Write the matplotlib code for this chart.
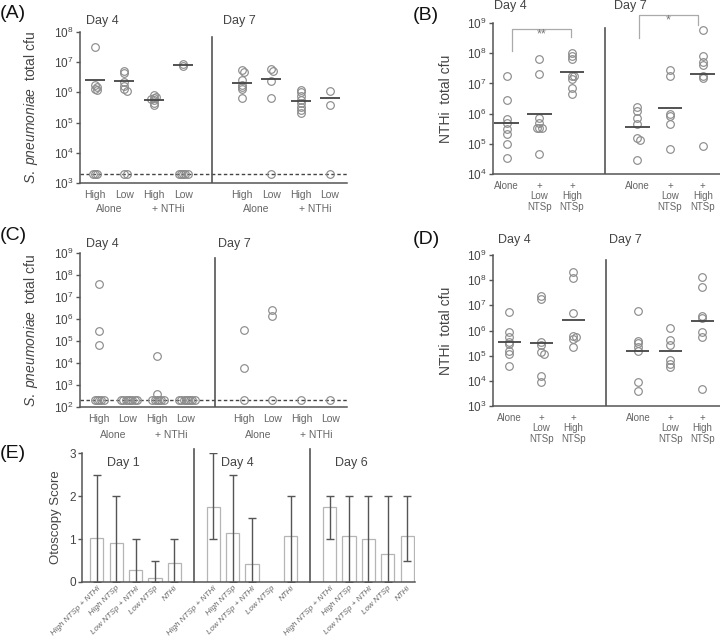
import numpy as np
import matplotlib
matplotlib.use("Agg")
import matplotlib.pyplot as plt
import matplotlib.transforms as mtransforms
from matplotlib.ticker import LogLocator, NullLocator

plt.rcParams['font.family'] = ['Liberation Sans', 'DejaVu Sans']
plt.rcParams['mathtext.fontset'] = 'custom'
plt.rcParams['mathtext.rm'] = 'Liberation Sans'
plt.rcParams['mathtext.it'] = 'Liberation Sans:italic'
plt.rcParams['mathtext.bf'] = 'Liberation Sans:bold'

# ---------------- data ----------------
# Panel A: S. pneumoniae total cfu (limit of detection 2e3)
a_lod = 2e3
a_groups = ["High", "Low", "High", "Low", "High", "Low", "High", "Low"]
a_d4_high_alone = [3.2e7, 1.75e6, 1.5e6, 1.25e6, 1.2e6, 2e3, 2e3, 2e3]
a_d4_low_alone = [5.2e6, 4.3e6, 2.2e6, 1.6e6, 1.3e6, 1.15e6, 2e3, 2e3]
a_d4_high_nthi = [8e5, 7e5, 6.5e5, 6e5, 5.5e5, 4.5e5, 3.8e5]
a_d4_low_nthi = [9e6, 7.5e6, 2e3, 2e3, 2e3, 2e3, 2e3]
a_d7_high_alone = [5.6e6, 4.9e6, 2.5e6, 1.8e6, 1.5e6, 1.26e6, 6.3e5]
a_d7_low_alone = [6e6, 5.3e6, 2.3e6, 6.7e5, 2e3]
a_d7_high_nthi = [1.2e6, 1e6, 7.6e5, 5.6e5, 4.4e5, 3.2e5, 2.6e5, 2.1e5]
a_d7_low_nthi = [1.15e6, 3.7e5, 2e3]
a_means = [2.6e6, 2.3e6, 5.5e5, 7.8e6, 2.0e6, 2.7e6, 5.3e5, 6.3e5]

# Panel B: NTHi total cfu
b_labels = ["Alone", "+\nLow\nNTSp", "+\nHigh\nNTSp", "Alone", "+\nLow\nNTSp", "+\nHigh\nNTSp"]
b_d4_alone = [1.75e7, 2.9e6, 6.5e5, 5e5, 3e5, 2.1e5, 9.5e4, 3.5e4]
b_d4_low = [6.5e7, 2.05e7, 7e5, 5e5, 3.3e5, 3.3e5, 3.3e5, 4.5e4]
b_d4_high = [1.05e8, 8.3e7, 6.5e7, 1.75e7, 1.75e7, 1.35e7, 7.3e6, 4.3e6]
b_d7_alone = [1.6e6, 1.2e6, 7e5, 4.6e5, 1.5e5, 1.35e5, 2.9e4]
b_d7_low = [2.7e7, 1.7e7, 1.0e6, 8.3e5, 4.6e5, 6.6e4]
b_d7_high = [5.7e8, 7.8e7, 5.3e7, 4e7, 1.8e7, 1.5e7, 8.7e4]
b_means = [4.8e5, 9.6e5, 2.3e7, 3.5e5, 1.55e6, 2.0e7]
b_sig = ["**", "*"]

# Panel C: S. pneumoniae total cfu (limit of detection 2e2)
c_lod = 2e2
c_d4_high_alone = [4e7, 2.9e5, 6.8e4, 2e2, 2e2, 2e2, 2e2, 2e2]
c_d4_low_alone = [2e2] * 8
c_d4_high_nthi = [2e4, 4e2, 2e2, 2e2, 2e2, 2e2, 2e2, 2e2]
c_d4_low_nthi = [2e2] * 8
c_d7_high_alone = [3.1e5, 5.9e3, 2e2]
c_d7_low_alone = [2.7e6, 1.35e6, 2e2]
c_d7_high_nthi = [2e2]
c_d7_low_nthi = [2e2]

# Panel D: NTHi total cfu
d_d4_alone = [5.3e6, 8.8e5, 5.6e5, 3.5e5, 2.8e5, 1.55e5, 1.15e5, 4e4]
d_d4_low = [2.3e7, 1.8e7, 3.4e5, 2.6e5, 1.45e5, 1.2e5, 1.55e4, 8.7e3]
d_d4_high = [2.1e8, 1.2e8, 4.8e6, 6.2e5, 5.6e5, 4.6e5, 2.3e5]
d_d7_alone = [5.9e6, 4e5, 3.1e5, 2.3e5, 1.55e5, 9.3e3, 4.1e3]
d_d7_low = [1.3e6, 4.2e5, 2.6e5, 6.7e4, 4.7e4, 3.4e4]
d_d7_high = [1.3e8, 5.5e7, 3.9e6, 3.2e6, 9e5, 5.3e5, 4.6e3]
d_means = [3.4e5, 3.1e5, 2.6e6, 1.55e5, 1.6e5, 2.3e6]

# Panel E: otoscopy score
e_labels = ["High NTSp + NTHi", "High NTSp", "Low NTSp + NTHi", "Low NTSp", "NTHi"]
e_days = ["Day 1", "Day 4", "Day 6"]
nan = np.nan
e_mean = [1.03, 0.91, 0.28, 0.09, 0.45,
          1.75, 1.13, 0.41, nan, 1.07,
          1.75, 1.07, 1.00, 0.66, 1.07]
e_low = [0, 0, 0, 0, 0,
         1.0, 0, 0, nan, 0,
         1.0, 0, 0, 0, 0.5]
e_high = [2.5, 2.0, 1.0, 0.5, 1.0,
          3.0, 2.5, 1.5, nan, 2.0,
          2.0, 2.0, 2.0, 2.0, 2.0]

# ---------------- helpers ----------------
FW, FH = 720, 640
PT_COL = '#8c8c8c'
AX_COL = '#555555'

fig = plt.figure(figsize=(7.2, 6.4), dpi=100)


def add_axes(l, t, r, b):
    return fig.add_axes([l / FW, 1 - b / FH, (r - l) / FW, (b - t) / FH])


def style(ax):
    for s in ['top', 'right']:
        ax.spines[s].set_visible(False)
    for s in ['left', 'bottom']:
        ax.spines[s].set_color(AX_COL)
        ax.spines[s].set_linewidth(1.1)
    ax.tick_params(axis='y', colors=AX_COL, labelcolor='#444', labelsize=8.5,
                   length=3, width=1, pad=1.5)
    ax.tick_params(axis='x', length=0, labelcolor='#666', labelsize=7.5, pad=5)


def log_axis(ax, lo, hi, xlo, xhi):
    ax.set_yscale('log')
    ax.set_ylim(lo, hi)
    ax.set_xlim(xlo, xhi)
    ax.yaxis.set_major_locator(LogLocator(base=10, numticks=20))
    ax.yaxis.set_minor_locator(NullLocator())


def swarm_x(ax, x0, vals, diam=7.0):
    pos = ax.get_position()
    xl = ax.get_xlim()
    yl = ax.get_ylim()
    ux = pos.width * FW / (xl[1] - xl[0])
    uy = pos.height * FH / (np.log10(yl[1]) - np.log10(yl[0]))
    step = diam * 0.32
    thr = diam * 0.30
    placed = []
    xs = []
    for v in vals:
        y = np.log10(v) * uy
        k = 0
        while True:
            off = 0 if k == 0 else ((k + 1) // 2) * step * (1 if k % 2 else -1)
            ok = all((off - px) ** 2 + (y - py) ** 2 >= thr ** 2 for px, py in placed)
            if ok or k > 20:
                break
            k += 1
        placed.append((off, y))
        xs.append(x0 + off / ux)
    return xs


def strip(ax, x0, vals):
    xs = swarm_x(ax, x0, vals)
    ax.plot(xs, vals, 'o', ls='none', mfc='none', mec=PT_COL, ms=5.5, mew=0.85,
            clip_on=False, zorder=3)


def mean_lines(ax, xs, means, hw=0.34):
    ax.hlines(means, np.array(xs) - hw, np.array(xs) + hw, color='#444', lw=1.3, zorder=4)


def day_labels(ax, xs, texts, ypos):
    tr = mtransforms.blended_transform_factory(ax.transData, ax.transAxes)
    for x, t in zip(xs, texts):
        ax.text(x, ypos, t, transform=tr, ha='left', va='center', fontsize=9, color='#444')


def group_labels(ax, xs, texts, ypos):
    tr = mtransforms.blended_transform_factory(ax.transData, ax.transAxes)
    for x, t in zip(xs, texts):
        ax.text(x, ypos, t, transform=tr, ha='center', va='center', fontsize=7.5, color='#666')


ylab_sp = r"$\mathit{S.\ pneumoniae}$  total cfu"

# ---------------- Panel A ----------------
axA = add_axes(80, 32, 347, 183)
style(axA)
log_axis(axA, 1e3, 1e8, 0.49, 9.58)
a_x = [1, 2, 3, 4, 6, 7, 8, 9]
for x, vals in zip(a_x, [a_d4_high_alone, a_d4_low_alone, a_d4_high_nthi, a_d4_low_nthi,
                         a_d7_high_alone, a_d7_low_alone, a_d7_high_nthi, a_d7_low_nthi]):
    strip(axA, x, vals)
mean_lines(axA, a_x, a_means)
axA.axhline(a_lod, color='#444', ls=(0, (2.5, 1.8)), lw=1.0, zorder=2)
axA.axvline(5, ymin=0, ymax=0.97, color=AX_COL, lw=1.2)
axA.set_xticks(a_x)
axA.set_xticklabels(a_groups)
group_labels(axA, [1.5, 3.5, 6.5, 8.5], ["Alone", "+ NTHi", "Alone", "+ NTHi"], -0.175)
day_labels(axA, [0.7, 5.35], ["Day 4", "Day 7"], 1.075)
axA.set_ylabel(ylab_sp, fontsize=10, color='#444')
axA.yaxis.set_label_coords(-0.15, 0.5)

# ---------------- Panel B ----------------
axB = add_axes(493, 23, 720, 174)
style(axB)
log_axis(axB, 1e4, 1e9, 0.58, 7.53)
b_x = [1, 2, 3, 5, 6, 7]
for x, vals in zip(b_x, [b_d4_alone, b_d4_low, b_d4_high, b_d7_alone, b_d7_low, b_d7_high]):
    strip(axB, x, vals)
mean_lines(axB, b_x, b_means, hw=0.38)
axB.axvline(4, ymin=0, ymax=0.97, color=AX_COL, lw=1.2)
axB.set_xticks(b_x)
axB.set_xticklabels(b_labels, linespacing=1.05, fontsize=7)
br_col = '#aaaaaa'
axB.plot([1.15, 1.15, 2.97, 2.97], [1.2e8, 6.3e8, 6.3e8, 3.5e8], color=br_col, lw=0.9, clip_on=False)
axB.text(2.06, 4.2e8, b_sig[0], ha='center', va='center', fontsize=9, color='#777')
axB.plot([5.05, 5.05, 6.85, 6.85], [3.2e8, 1.9e9, 1.9e9, 8.7e8], color=br_col, lw=0.9, clip_on=False)
axB.text(5.95, 1.25e9, b_sig[1], ha='center', va='center', fontsize=9, color='#777')
day_labels(axB, [0.62, 4.28], ["Day 4", "Day 7"], 1.11)
axB.set_ylabel("NTHi  total cfu", fontsize=10, color='#444')
axB.yaxis.set_label_coords(-0.176, 0.5)

# ---------------- Panel C ----------------
axC = add_axes(80, 253, 347, 407)
style(axC)
log_axis(axC, 1e2, 1e9, 0.34, 9.58)
c_x = [1, 2, 3, 4, 6, 7, 8, 9]
for x, vals in zip(c_x, [c_d4_high_alone, c_d4_low_alone, c_d4_high_nthi, c_d4_low_nthi,
                         c_d7_high_alone, c_d7_low_alone, c_d7_high_nthi, c_d7_low_nthi]):
    strip(axC, x, vals)
axC.axhline(c_lod, color='#444', ls=(0, (2.5, 1.8)), lw=1.0, zorder=2)
axC.axvline(5, ymin=0, ymax=0.97, color=AX_COL, lw=1.2)
axC.set_xticks(c_x)
axC.set_xticklabels(a_groups)
group_labels(axC, [1.5, 3.5, 6.5, 8.5], ["Alone", "+ NTHi", "Alone", "+ NTHi"], -0.18)
day_labels(axC, [0.55, 5.1], ["Day 4", "Day 7"], 1.06)
axC.set_ylabel(ylab_sp, fontsize=10, color='#444')
axC.yaxis.set_label_coords(-0.15, 0.5)

# ---------------- Panel D ----------------
axD = add_axes(493, 255, 720, 406)
style(axD)
log_axis(axD, 1e3, 1e9, 0.5, 7.55)
for x, vals in zip(b_x, [d_d4_alone, d_d4_low, d_d4_high, d_d7_alone, d_d7_low, d_d7_high]):
    strip(axD, x, vals)
mean_lines(axD, b_x, d_means, hw=0.36)
axD.axvline(4, ymin=0, ymax=0.97, color=AX_COL, lw=1.2)
axD.set_xticks(b_x)
axD.set_xticklabels(b_labels, linespacing=1.05, fontsize=7)
day_labels(axD, [0.65, 4.1], ["Day 4", "Day 7"], 1.1)
axD.set_ylabel("NTHi  total cfu", fontsize=10, color='#444')
axD.yaxis.set_label_coords(-0.176, 0.5)

# ---------------- Panel E ----------------
axE = add_axes(82, 453, 415, 582)
style(axE)
e_x = [6 * d + i for d in range(3) for i in range(5)]
e_mean_a = np.array(e_mean, dtype=float)
e_low_a = np.array(e_low, dtype=float)
e_high_a = np.array(e_high, dtype=float)
axE.bar(e_x, np.nan_to_num(e_mean_a), width=0.68, color='white', edgecolor='#b5b5b5', lw=0.9, zorder=2)
axE.errorbar(e_x, e_mean_a, yerr=[e_mean_a - e_low_a, e_high_a - e_mean_a], fmt='none',
             ecolor='#555', elinewidth=1.0, capsize=3, capthick=1.0, zorder=3)
axE.set_xlim(-0.76, 16.4)
axE.set_ylim(0, 3)
axE.set_yticks([0, 1, 2, 3])
axE.axvline(5, color=AX_COL, lw=1.2, ymax=1.03, clip_on=False)
axE.axvline(11, color=AX_COL, lw=1.2, ymax=1.03, clip_on=False)
axE.set_xticks(e_x)
axE.set_xticklabels(e_labels * 3, rotation=45, ha='right', rotation_mode='anchor',
                    fontsize=5.8, style='italic', color='#666')
axE.tick_params(axis='x', pad=2)
day_labels(axE, [0.55, 6.4, 12.3], e_days, 0.92)
axE.set_ylabel("Otoscopy Score", fontsize=9.5, color='#444')
axE.yaxis.set_label_coords(-0.06, 0.5)

# ---------------- panel letters ----------------
for t, x, y in [("(A)", 0, 14), ("(B)", 413, 15), ("(C)", 0, 235), ("(D)", 413, 240), ("(E)", 0, 453)]:
    fig.text(x / FW, 1 - y / FH, t, fontsize=14, color='#111', ha='left', va='center')

fig.savefig("out.png", dpi=100)
